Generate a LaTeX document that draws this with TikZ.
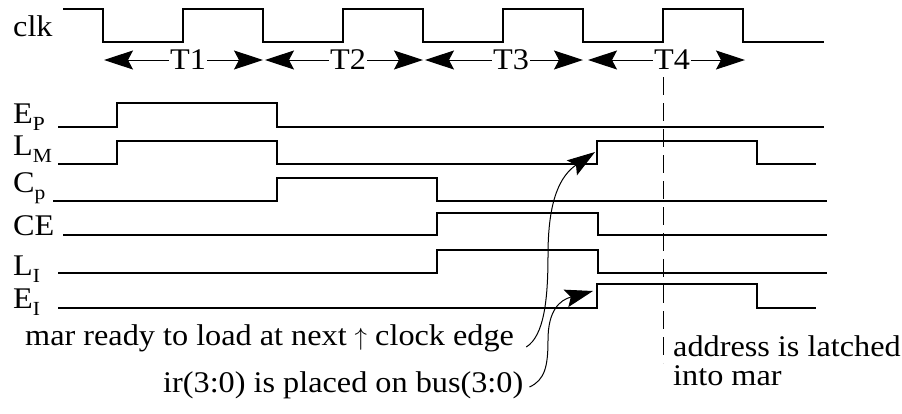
\documentclass[tikz,border=0pt]{standalone}
\usepackage{fontspec}
\setmainfont[FakeStretch=1.075]{Liberation Serif}
\usetikzlibrary{arrows.meta,calc}
\tikzset{
  wave/.style={line width=1.3pt, line join=miter},
  clkwave/.style={line width=1.4pt, line join=miter},
  lbl/.style={anchor=base west, inner sep=0pt, font=\fontsize{30}{32}\selectfont},
  tlbl/.style={inner sep=1pt, font=\fontsize{30}{32}\selectfont},
  tarrow/.style={line width=1pt, -{Stealth[length=29pt,width=19pt,inset=5pt]}},
  callout/.style={line width=1pt, -{Stealth[length=28pt,width=18pt,inset=5pt]}},
  latch/.style={line width=1pt, dash pattern=on 18pt off 8pt},
}
\newcommand\lsub[2]{#1\raisebox{-7pt}{\fontsize{20}{20}\selectfont #2}}
\begin{document}
\begin{tikzpicture}[x=1pt,y=-1pt]
\useasboundingbox (0,0) rectangle (902,413);
% clock
\node[lbl] (clk) at (13,36) {clk};
\draw[clkwave] (63,9) -- (103,9) -- (103,42) -- (183,42) -- (183,9) -- (263,9) -- (263,42)
  -- (343,42) -- (343,9) -- (423,9) -- (423,42) -- (503,42) -- (503,9) -- (583,9) -- (583,42)
  -- (663,42) -- (663,9) -- (743,9) -- (743,42) -- (824,42);
% period arrows
\node[tlbl] (t1) at (188,60) {T1};
\node[tlbl] (t2) at (348,60) {T2};
\node[tlbl] (t3) at (511,60) {T3};
\node[tlbl] (t4) at (672,60) {T4};
\coordinate (t1l) at (104,60); \coordinate (t1r) at (263,60);
\coordinate (t2l) at (265,60); \coordinate (t2r) at (423,60);
\coordinate (t3l) at (425,60); \coordinate (t3r) at (583,60);
\coordinate (t4l) at (588,60); \coordinate (t4r) at (745,60);
\foreach \t in {t1,t2,t3,t4}{
  \draw[tarrow] (\t.west) -- (\t l);
  \draw[tarrow] (\t.east) -- (\t r);
}
% dashed latch line
\draw[latch] (663,77) -- (663,363);
% signal labels
\node[lbl] (ep) at (13,123) {\lsub{E}{P}};
\node[lbl] (lm) at (13,155) {\lsub{L}{M}};
\node[lbl] (cp) at (13,192) {\lsub{C}{p}};
\node[lbl] (ce) at (13,235) {CE};
\node[lbl] (li) at (13,275) {\lsub{L}{I}};
\node[lbl] (ei) at (13,308) {\lsub{E}{I}};
% signals
\draw[wave] (58,127) -- (117,127) -- (117,103) -- (277,103) -- (277,127) -- (824,127);
\draw[wave] (58,164) -- (117,164) -- (117,141) -- (277,141) -- (277,164) -- (597,164)
  -- (597,141) -- (757,141) -- (757,164) -- (816,164);
\draw[wave] (53,201) -- (277,201) -- (277,178) -- (437,178) -- (437,201) -- (827,201);
\draw[wave] (63,235) -- (437,235) -- (437,213) -- (598,213) -- (598,235) -- (827,235);
\draw[wave] (58,273) -- (437,273) -- (437,250) -- (598,250) -- (598,273) -- (827,273);
\draw[wave] (58,308) -- (597,308) -- (597,284) -- (757,284) -- (757,308) -- (816,308);
% annotations
\node[lbl] (mar) at (25,345) {mar ready to load at next $\uparrow$ clock edge};
\node[lbl] (ir) at (163,392) {ir(3:0) is placed on bus(3:0)};
\node[lbl] (addr) at (673,356) {address is latched};
\node[lbl] (into) at (673,385) {into mar};
\coordinate (lmrise) at (595,152);
\coordinate (eirise) at (593,291);
\draw[callout] ($(mar.base east)+(12,2)$) .. controls (544,336) and (548,300) .. (548,255)
  .. controls (548,200) and (560,176) .. (lmrise);
\draw[callout] ($(ir.base east)+(6,-5)$) .. controls (545,380) and (548,366) .. (548,340)
  .. controls (548,310) and (560,300) .. (eirise);
\end{tikzpicture}
\end{document}
